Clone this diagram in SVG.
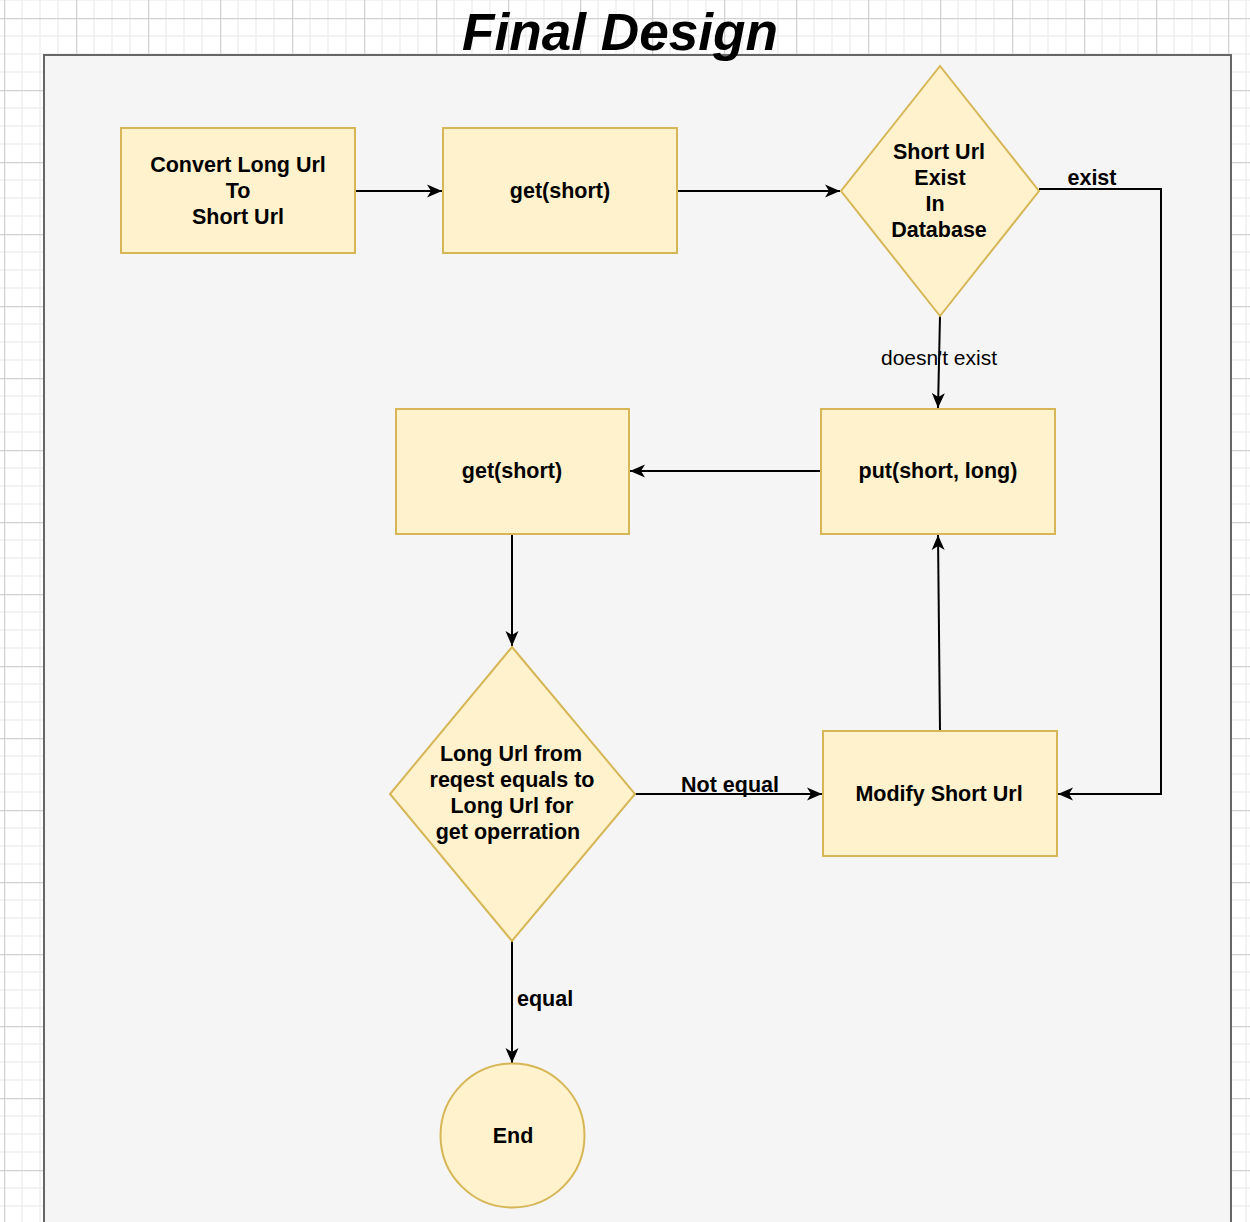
<svg xmlns="http://www.w3.org/2000/svg" width="1250" height="1222" viewBox="0 0 1250 1222">
<style>
.node{fill:#fff2cc;stroke:#d6b656;stroke-width:2}
.t{font-family:"Liberation Sans",Arial,Helvetica,sans-serif;font-size:21.5px;font-weight:bold;fill:#000;text-anchor:middle}
.lbl{font-family:"Liberation Sans",Arial,Helvetica,sans-serif;font-size:21px;fill:#000;text-anchor:middle}
.start{text-anchor:start}
.edge{fill:none;stroke:#000;stroke-width:2}
</style>
<defs>
<pattern id="grid" x="4" y="18" width="72" height="72" patternUnits="userSpaceOnUse">
<rect width="72" height="72" fill="#fff"/>
<path d="M18,0V72M36,0V72M54,0V72M0,18H72M0,36H72M0,54H72" stroke="#efefef" stroke-width="1.5"/>
<path d="M0.5,0V72M0,0.5H72" stroke="#d2d2d2" stroke-width="1.5"/>
</pattern>
<marker id="arr" markerUnits="userSpaceOnUse" markerWidth="16" markerHeight="14" refX="15" refY="7" orient="auto">
<path d="M0,0.5 L15,7 L0,13.5 L4,7 Z" fill="#000"/>
</marker>
</defs>
<rect width="1250" height="1222" fill="url(#grid)"/>
<rect id="container" x="44" y="55" width="1187" height="1180" fill="#f5f5f5" stroke="#666" stroke-width="2"/>
<text id="title" x="620" y="50" font-family="'Liberation Sans',Arial,Helvetica,sans-serif" font-size="51" font-weight="bold" font-style="italic" text-anchor="middle" textLength="316" lengthAdjust="spacingAndGlyphs">Final Design</text>

<g id="connectors">
<path class="edge" d="M355,191H442" marker-end="url(#arr)"/>
<path class="edge" d="M677,191H840" marker-end="url(#arr)"/>
<path class="edge" d="M1039,189H1161V794H1058" marker-end="url(#arr)"/>
<path class="edge" d="M940,316L938,408" marker-end="url(#arr)"/>
<path class="edge" d="M821,471H630" marker-end="url(#arr)"/>
<path class="edge" d="M512,534V646" marker-end="url(#arr)"/>
<path class="edge" d="M635,794H822" marker-end="url(#arr)"/>
<path class="edge" d="M940,731L938,535" marker-end="url(#arr)"/>
<path class="edge" d="M512,941V1063" marker-end="url(#arr)"/>
<text class="t" x="1092" y="185">exist</text>
<text class="lbl" x="939" y="365">doesn't exist</text>
<text class="t" x="730" y="792">Not equal</text>
<text class="t start" x="517" y="1006">equal</text>
</g>

<g id="convert">
<rect class="node" x="121" y="128" width="234" height="125"/>
<text class="t" x="238" y="172">Convert Long Url</text>
<text class="t" x="238" y="198">To</text>
<text class="t" x="238" y="224">Short Url</text>
</g>
<g id="get1">
<rect class="node" x="443" y="128" width="234" height="125"/>
<text class="t" x="560" y="198">get(short)</text>
</g>
<g id="exists">
<path class="node" d="M940,66L1039,191L940,316L841,191Z"/>
<text class="t" x="939" y="159">Short Url</text>
<text class="t" x="940" y="185">Exist</text>
<text class="t" x="935" y="211">In</text>
<text class="t" x="939" y="237">Database</text>
</g>
<g id="put">
<rect class="node" x="821" y="409" width="234" height="125"/>
<text class="t" x="938" y="478">put(short, long)</text>
</g>
<g id="get2">
<rect class="node" x="396" y="409" width="233" height="125"/>
<text class="t" x="512" y="478">get(short)</text>
</g>
<g id="compare">
<path class="node" d="M512,647L635,794L512,941L390,794Z"/>
<text class="t" x="511" y="761">Long Url from</text>
<text class="t" x="512" y="787">reqest equals to</text>
<text class="t" x="512" y="813">Long Url for</text>
<text class="t" x="508" y="839">get operration</text>
</g>
<g id="modify">
<rect class="node" x="823" y="731" width="234" height="125"/>
<text class="t" x="939" y="801">Modify Short Url</text>
</g>
<g id="end">
<circle class="node" cx="512.5" cy="1135.5" r="72"/>
<text class="t" x="513" y="1143">End</text>
</g>
</svg>
